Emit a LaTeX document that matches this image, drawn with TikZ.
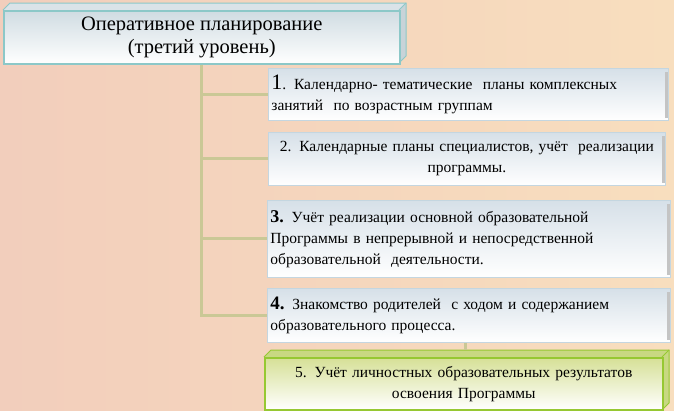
\documentclass[tikz,border=0pt]{standalone}
\usepackage{fontspec}
\setmainfont{Liberation Serif}
\usetikzlibrary{calc}
\definecolor{bgpink}{RGB}{242,206,188}
\definecolor{bgyellow}{RGB}{248,222,190}
\definecolor{cardtop}{RGB}{214,224,232}
\definecolor{cardedge}{RGB}{196,214,224}
\definecolor{hdredge}{RGB}{140,200,200}
\definecolor{hdrtop}{RGB}{208,220,226}
\definecolor{trunk}{RGB}{202,200,150}
\definecolor{grnedge}{RGB}{150,200,50}
\definecolor{grntop}{RGB}{214,224,150}
\definecolor{grnside}{RGB}{200,216,130}
\definecolor{sidegray}{RGB}{196,196,196}
\newcommand{\bodyfs}{\fontsize{15.5}{21}\selectfont}
\newcommand{\hdrfs}{\fontsize{20.5}{23}\selectfont}
\tikzset{
  card/.style={draw=cardedge, line width=0.8pt, top color=cardtop, bottom color=white,
    anchor=north west, inner xsep=2pt, inner ysep=0pt, font=\bodyfs, align=left},
  conn/.style={draw=trunk, line width=3pt},
}
\begin{document}
\begin{tikzpicture}[x=1pt,y=-1pt]
\useasboundingbox (0,0) rectangle (674,410);
\shade[left color=bgpink, right color=bgyellow] (0,0) rectangle (674,410);

% header 3D box
\fill[hdrtop!80] (3,10) -- (10,3) -- (406,3) -- (399,10) -- cycle;
\fill[hdrtop!90!gray] (399,10) -- (406,3) -- (406,56) -- (399,63) -- cycle;
\draw[hdredge, line width=1pt] (3,10) -- (10,3) -- (406,3) -- (406,56) -- (399,63);
\draw[hdredge, line width=1pt] (399,10) -- (406,3);
\node[draw=hdredge, line width=1.5pt, top color=hdrtop, bottom color=white,
  minimum width=396pt, minimum height=53pt, anchor=north west, inner sep=0pt,
  align=center, font=\hdrfs] (hdr) at (3,10)
  {Оперативное планирование\\(третий уровень)};

% boxes
\node[card, minimum width=400pt, minimum height=52pt, text width=394pt] (b1) at (268,68)
  {{\fontsize{22}{22}\selectfont 1}. Календарно- тематические\ \ планы комплексных\\занятий\ \ по возрастным группам};
\node[card, minimum width=397pt, minimum height=53pt, text width=391pt, align=center] (b2) at (268,132)
  {2. Календарные планы специалистов, учёт\ \ реализации\\программы.};
\node[card, minimum width=403pt, minimum height=77pt, text width=397pt] (b3) at (267,200)
  {{\fontsize{18}{18}\selectfont\bfseries 3.} Учёт реализации основной образовательной\\Программы в непрерывной и непосредственной\\образовательной\ \ деятельности.};
\node[card, minimum width=403pt, minimum height=54pt, text width=397pt] (b4) at (267,288)
  {{\fontsize{19}{19}\selectfont\bfseries 4.} Знакомство родителей\ \ с ходом и содержанием\\образовательного процесса.};

\foreach \b in {b1,b2,b3,b4}{
  \fill[sidegray] ([xshift=-4pt,yshift=-4pt]\b.north east) rectangle ([xshift=-0.5pt,yshift=3pt]\b.south east);
}

% green 3D box
\fill[grnside] (264,357) -- (271,350) -- (669,350) -- (662,357) -- cycle;
\fill[grnside] (662,357) -- (669,350) -- (669,403) -- (662,410) -- cycle;
\draw[grnedge, line width=1pt] (264,357) -- (271,350) -- (669,350) -- (669,403) -- (662,410);
\draw[grnedge, line width=1pt] (662,357) -- (669,350);
\coordinate (b5top) at (465,350);
\node[draw=grnedge, line width=1.5pt, top color=grntop, bottom color=white,
  minimum width=398pt, minimum height=52pt, anchor=north west, inner sep=0pt,
  text width=392pt, align=center, font=\bodyfs] (b5) at (264,357)
  {5. Учёт личностных образовательных результатов\\освоения Программы};

% connectors
\draw[conn] (hdr.south) |- (b1.west);
\draw[conn] (hdr.south) |- (b2.west);
\draw[conn] (hdr.south) |- (b3.west);
\draw[conn] (hdr.south) |- (b4.west);
\draw[conn] (b4.south -| b5top) -- (b5top);
\end{tikzpicture}
\end{document}
